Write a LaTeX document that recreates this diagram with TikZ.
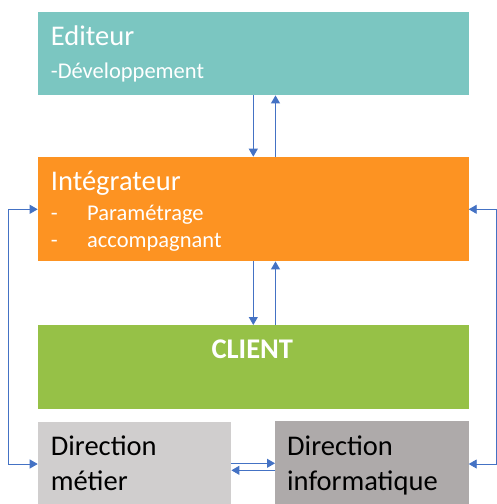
\documentclass[tikz,border=0pt]{standalone}
\usepackage{fontspec}
\setmainfont{Carlito}
\usetikzlibrary{arrows.meta}
\definecolor{cteal}{HTML}{7BC6C1}
\definecolor{corange}{HTML}{FD9322}
\definecolor{cgreen}{HTML}{96C147}
\definecolor{cgrayl}{HTML}{D0CECE}
\definecolor{cgrayd}{HTML}{AEAAAA}
\definecolor{cblue}{HTML}{4472C4}
\tikzset{
  box/.style={draw=none, inner sep=0pt, anchor=north west, rectangle},
  big/.style={anchor=base west, inner sep=0pt, font=\fontsize{28.5}{30}\selectfont},
  small/.style={anchor=base west, inner sep=0pt, font=\fontsize{22.5}{24}\selectfont},
  arr/.style={draw=cblue, line width=0.9pt, -{Triangle[length=8pt,width=9pt]}},
  arrb/.style={draw=cblue, line width=0.9pt, {Triangle[length=8pt,width=9pt]}-{Triangle[length=8pt,width=9pt]}}
}
\begin{document}
\begin{tikzpicture}[x=1pt,y=-1pt]
\useasboundingbox (0,0) rectangle (497,504);
% boxes
\node[box, fill=cteal, minimum width=430.6pt, minimum height=83.3pt] (ed) at (37.7,11.7) {};
\node[box, fill=corange, minimum width=430.6pt, minimum height=104.3pt] (int) at (37.7,156.7) {};
\node[box, fill=cgreen, minimum width=430.6pt, minimum height=84pt] (cl) at (37.7,325) {};
\node[box, fill=cgrayl, minimum width=193.3pt, minimum height=83pt] (dm) at (37.7,421.7) {};
\node[box, fill=cgrayd, minimum width=193.3pt, minimum height=84pt] (di) at (275,420.7) {};
% texts
\node[big, text=white] (tEd) at (50.7,45) {Editeur};
\node[small, text=white] (tDev) at (50.7,78) {-Développement};
\node[big, text=white] (tInt) at (50.7,190.7) {Intégrateur};
\node[small, text=white] (tPar) at (50.7,220) {\makebox[36.3pt][l]{-}Paramétrage};
\node[small, text=white] (tAcc) at (50.7,247) {\makebox[36.3pt][l]{-}accompagnant};
\node[anchor=base, inner sep=0pt, font=\fontsize{28.5}{30}\selectfont\bfseries, text=white] (tCl) at (252.3,358) {CLIENT};
\node[big, text=black] (tDm1) at (50.7,455) {Direction};
\node[big, text=black] (tDm2) at (50.7,490) {métier};
\node[big, text=black] (tDi1) at (287,455) {Direction};
\node[big, text=black] (tDi2) at (287,490) {informatique};
% helper coordinates
\coordinate (xd) at (253.3,0);
\coordinate (xu) at (275.5,0);
\coordinate (L) at (8.3,0);
\coordinate (R) at (496.2,0);
\coordinate (iy) at (0,209.3);
\coordinate (dy) at (0,464);
\coordinate (by1) at (0,463.3);
\coordinate (by2) at (0,470.3);
% vertical arrows
\draw[arr] (ed.south -| xd) -- (int.north -| xd);
\draw[arr] (int.north -| xu) -- (ed.south -| xu);
\draw[arr] (int.south -| xd) -- (cl.north -| xd);
\draw[arr] (cl.north -| xu) -- (int.south -| xu);
% side loops
\draw[arrb] (int.west |- iy) -- (L |- iy) -- (L |- dy) -- (dm.west |- dy);
\draw[arrb] (int.east |- iy) -- (R |- iy) -- (R |- dy) -- (di.east |- dy);
% bottom middle
\draw[arr] (dm.east |- by1) -- (di.west |- by1);
\draw[arr] (di.west |- by2) -- (dm.east |- by2);
\end{tikzpicture}
\end{document}
